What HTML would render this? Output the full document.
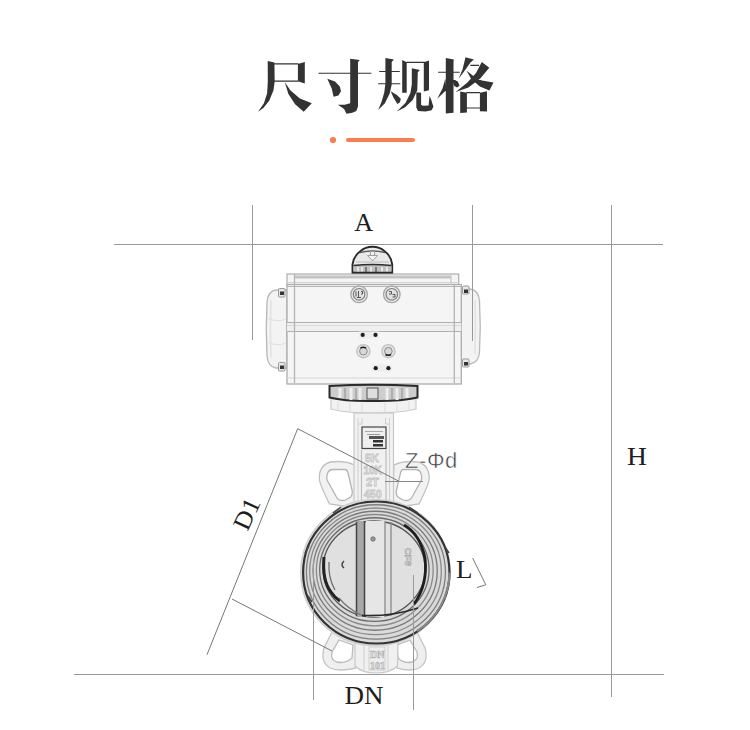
<!DOCTYPE html>
<html><head><meta charset="utf-8">
<style>
html,body{margin:0;padding:0;background:#fff;width:750px;height:730px;overflow:hidden}
svg{display:block}
.lbl{font-family:"Liberation Serif",serif;font-size:25px;fill:#1e1e1e}
.sans{font-family:"Liberation Sans",sans-serif;font-size:22px;fill:#3a3a3a;letter-spacing:0.6px;stroke:#fff;stroke-width:0.5px}
</style></head><body>
<svg width="750" height="730" viewBox="0 0 750 730">
<rect width="750" height="730" fill="#fff"/>
<!-- TITLE -->
<g id="title" fill="#333">
<path d="M267.7,61.0 L274.4,62.5 L274.7,81.6 L273.5,90.3 L269.2,100.8 L263.4,108.0 L258.1,111.8 L263.9,103.2 L267.1,93.6 L267.8,81.6Z M274.4,63.3 L298.4,63.3 L298.4,64.4 L274.4,64.4Z M297.9,63.9 L304.8,62.0 L304.8,83.6 L297.9,81.2Z M274.4,80.6 L298.4,80.6 L298.4,81.7 L274.4,81.7Z M284.7,82.1 L290.3,90.3 L299.9,98.4 L311.8,103.2 L303.7,111.8 L295.1,104.2 L288.4,94.1Z M318.5,72.7 L371.4,72.7 L371.4,73.8 L318.5,73.8Z M350.2,58.8 L359.7,60.1 L358.0,62.3 L358.0,106.6 L356.3,110.9 L352.3,112.8 L346.5,113.8 L344.1,109.0 L337.9,104.7 L344.6,104.8 L350.2,103.2Z M327.3,78.8 L335.0,81.6 L339.8,86.4 L341.0,91.2 L338.4,95.5 L333.6,96.7 L331.7,88.4Z M379.2,71.0 L399.8,71.0 L399.8,72.1 L379.2,72.1Z M378.2,83.3 L400.3,83.3 L400.3,84.3 L378.2,84.3Z M385.4,58.1 L393.9,59.6 L391.7,62.0 L391.7,84.5 L389.7,93.6 L384.9,103.2 L378.2,109.9 L381.6,101.8 L384.3,92.2 L385.4,83.6Z M390.7,91.2 L396.9,95.1 L400.8,98.7 L400.0,102.3 L397.4,103.9 L393.3,97.2Z M402.2,60.1 L406.7,62.3 L406.7,92.7 L402.2,92.7Z M406.5,61.8 L427.6,61.8 L427.6,62.9 L406.5,62.9Z M423.8,62.3 L429.0,60.4 L429.0,90.3 L423.8,91.4Z M411.8,68.2 L419.9,70.1 L417.8,72.2 L417.3,90.3 L412.7,99.9 L405.1,107.3 L396.9,111.4 L405.6,102.7 L410.4,93.1 L411.8,84.5Z M416.3,92.2 L421.1,92.7 L421.1,104.7 L422.8,105.8 L428.6,105.6 L429.5,95.8 L431.3,99.9 L433.4,106.8 L431.6,110.2 L425.7,111.6 L418.0,111.0 L416.3,107.5Z M445.8,58.1 L453.8,59.6 L453.5,62.5 L453.5,112.8 L445.8,113.5Z M438.1,71.8 L459.7,71.8 L459.7,72.8 L438.1,72.8Z M445.3,78.8 L446.1,90.3 L437.2,98.7 L442.5,88.4Z M453.0,78.8 L458.0,81.8 L459.5,85.7 L457.0,87.6 L454.0,85.7Z M465.5,57.2 L473.9,59.6 L470.5,62.5 L463.7,72.1 L458.6,78.8 L462.6,69.2Z M470.3,64.8 L479.1,64.8 L479.1,65.9 L470.3,65.9Z M481.8,62.0 L489.3,67.7 L480.0,78.8 L468.4,87.6 L455.7,91.9 L467.4,82.6 L476.0,73.0Z M466.4,70.6 L473.3,75.9 L481.8,80.5 L493.5,82.6 L489.4,90.5 L479.9,86.6 L471.2,79.0Z M460.2,91.4 L466.9,92.7 L466.9,112.5 L460.2,113.1Z M479.9,92.7 L487.0,91.2 L487.0,111.6 L479.9,111.2Z M466.4,92.1 L480.0,92.1 L480.0,93.2 L466.4,93.2Z M466.4,107.5 L480.0,107.5 L480.0,108.5 L466.4,108.5Z"/>
</g>
<!-- accent -->
<circle cx="333" cy="140" r="3.1" fill="#fb7d4e"/>
<line x1="348" y1="140" x2="413" y2="140" stroke="#fb7d4e" stroke-width="4" stroke-linecap="round"/>

<!-- VALVE -->
<!--VALVE_START-->
<g id="valve">
<!-- left end cap -->
<path d="M287,290 L276,290 Q268,291 267,302 Q265.5,329 267,356 Q268,367 276,368 L287,368 Z" fill="#f3f3f3" stroke="#b8b8b8" stroke-width="1.3"/>
<path d="M271,300 Q270,329 271,358" stroke="#e2e2e2" fill="none" stroke-width="1.5"/>
<path d="M268,318 Q277,323 286,319 M268,342 Q277,347 286,343" stroke="#e0e0e0" fill="none"/>
<!-- right end cap -->
<path d="M461,289 L470,289 Q478.5,290 479.5,301 Q481,327 479.5,352 Q478.5,363 470,364 L461,364 Z" fill="#f3f3f3" stroke="#b8b8b8" stroke-width="1.3"/>
<path d="M475,300 Q476,327 475,354" stroke="#e2e2e2" fill="none" stroke-width="1.5"/>
<!-- cap bolts -->
<g fill="#e8e8e8" stroke="#9a9a9a" stroke-width="1">
<rect x="278.5" y="288.5" width="6.5" height="8.5" rx="1"/>
<rect x="278.5" y="362.5" width="6.5" height="8.5" rx="1"/>
<rect x="462.5" y="286" width="6.5" height="8" rx="1"/>
<rect x="462.5" y="359" width="6.5" height="8" rx="1"/>
</g>
<g fill="#333">
<rect x="280" y="291.5" width="4" height="3.5"/>
<rect x="280" y="365.5" width="4" height="3.5"/>
<rect x="464" y="289.5" width="4" height="3.5"/>
<rect x="464" y="362" width="4" height="3.5"/>
</g>
<!-- body -->
<rect x="287" y="274" width="171.7" height="11" fill="#f5f5f5" stroke="#adadad" stroke-width="1.2"/>
<rect x="287" y="284.5" width="174.3" height="99.5" fill="#f5f5f5" stroke="#adadad" stroke-width="1.3"/>
<rect x="295" y="275.5" width="156" height="3" fill="#c4c4c4"/>
<line x1="287" y1="282.5" x2="458.7" y2="282.5" stroke="#d4d4d4" stroke-width="1"/>
<line x1="287" y1="286.5" x2="461.3" y2="286.5" stroke="#b4b4b4" stroke-width="1.2"/>
<rect x="287" y="322.5" width="174.3" height="9" fill="#efefef"/>
<line x1="287" y1="322.5" x2="461.3" y2="322.5" stroke="#b0b0b0" stroke-width="1.2"/>
<line x1="287" y1="325.5" x2="461.3" y2="325.5" stroke="#dadada" stroke-width="1"/>
<line x1="287" y1="331.5" x2="461.3" y2="331.5" stroke="#b0b0b0" stroke-width="1.2"/>
<line x1="287" y1="378" x2="461.3" y2="378" stroke="#d6d6d6" stroke-width="1"/>
<line x1="294.5" y1="274" x2="294.5" y2="383" stroke="#b4b4b4" stroke-width="1.3"/>
<line x1="451" y1="274" x2="451" y2="285" stroke="#c8c8c8" stroke-width="1.2"/>
<line x1="454.3" y1="285" x2="454.3" y2="383" stroke="#b4b4b4" stroke-width="1.3"/>
<!-- knob -->
<path d="M352.5,272.5 L352.5,264.5 C353.5,258 356.5,254 360,251.5 C364,248 368,246.8 372.4,246.8 C376.8,246.8 381,248 385,251.5 C388.5,254 391.2,258 392.2,264.5 L392.2,272.5 Z" fill="#e9e9e9" stroke="#2a2a2a" stroke-width="1.9"/>
<path d="M360,252.5 Q372.5,249.5 385,252.5" stroke="#555" stroke-width="1.3" fill="none"/>
<path d="M356,262 L389,262" stroke="#bbb" stroke-width="1" fill="none"/>
<rect x="353.5" y="265" width="38" height="7" fill="#c0c0c0"/>
<path d="M353.5,265.5 Q372,263.5 391.5,265.5" stroke="#2e2e2e" stroke-width="1.5" fill="none"/>
<path d="M358,267 v5 M362,267 v5 M371,267 v5 M382,267 v5 M387,267 v5" stroke="#eee" stroke-width="1.6"/>
<path d="M366,267 v5 M376,267 v5" stroke="#666" stroke-width="1.5"/>
<path d="M352.5,272.5 L392.2,272.5" stroke="#2a2a2a" stroke-width="1.6"/>
<path d="M367.5,255.5 L377.5,255.5 L372.5,261 Z M370.5,251.5 h4 v4 h-4 Z" fill="#f2f2f2" stroke="#9a9a9a" stroke-width="0.9"/>
<!-- round bolts -->
<g>
<circle cx="359.1" cy="294.3" r="8.3" fill="#ececec" stroke="#a8a8a8" stroke-width="1.4"/>
<circle cx="359.1" cy="294.3" r="5.8" fill="#e2e2e2" stroke="#808080" stroke-width="1.2"/>
<path d="M356,291.5 v5 M358.5,291 v6 M361,291.5 h1.5 v2.5 h-1.5 M357,297.5 h4" stroke="#555" stroke-width="1" fill="none"/>
<circle cx="391.8" cy="294.3" r="8.3" fill="#ececec" stroke="#a8a8a8" stroke-width="1.4"/>
<circle cx="391.8" cy="294.3" r="5.8" fill="#e2e2e2" stroke="#808080" stroke-width="1.2"/>
<path d="M389,291.5 h2.5 v2.5 h-2.5 M392.5,294.5 h2.5 v2.5 h-2.5" stroke="#555" stroke-width="1" fill="none"/>
</g>
<!-- holes -->
<g fill="#ededed" stroke="none">
<rect x="359" y="331.5" width="20" height="7"/>
<rect x="372" y="364.5" width="20" height="7"/>
</g>
<circle cx="362.7" cy="334.9" r="2.1" fill="#1e1e1e"/>
<circle cx="375.5" cy="334.9" r="2.1" fill="#1e1e1e"/>
<circle cx="375.7" cy="368.2" r="2.1" fill="#1e1e1e"/>
<circle cx="388.4" cy="368.2" r="2.1" fill="#1e1e1e"/>
<circle cx="363.4" cy="351.2" r="6.6" fill="#e4e4e4" stroke="#c2c2c2" stroke-width="1.4"/>
<circle cx="363.4" cy="351.2" r="3.8" fill="#d8d8d8" stroke="#888" stroke-width="1"/>
<path d="M360.5,348 Q363,346.5 366,348" stroke="#222" stroke-width="1.6" fill="none"/>
<circle cx="388.4" cy="351.2" r="6.6" fill="#e4e4e4" stroke="#c2c2c2" stroke-width="1.4"/>
<circle cx="388.4" cy="351.2" r="3.8" fill="#d8d8d8" stroke="#888" stroke-width="1"/>
<path d="M385.5,354.5 Q388,356 391,354.5" stroke="#222" stroke-width="1.6" fill="none"/>
<!-- flange -->
<path d="M331,399 L331,409 Q345,413 373,413 Q401,413 416,409 L416,399 Z" fill="#f2f2f2" stroke="#cbcbcb" stroke-width="1.2"/>
<path d="M338,402 v9 M350,403 v9 M362,403 v10 M385,403 v10 M397,403 v9 M409,402 v9" stroke="#dcdcdc" stroke-width="1"/>
<path d="M329.5,386 Q373,383.5 417.5,386 L417.5,397.5 Q400,401.5 373,401 Q346,401.5 329.5,397.5 Z" fill="#cdcdcd" stroke="#2a2a2a" stroke-width="2"/>
<path d="M340,388 v10 M351,388 v12 M360,388 v12 M387,388 v12 M397,388 v12 M407,388 v10" stroke="#ededed" stroke-width="3"/>
<path d="M345,388 v11 M356,388 v12 M392,388 v12 M402,388 v11" stroke="#999" stroke-width="1.2"/>
<rect x="367" y="388" width="11" height="11" fill="#dedede" stroke="#555" stroke-width="1"/>
<!-- upper ears -->
<path d="M354.5,465 C348.5,462 338.5,461 330.5,462 C322.5,464 318.5,471 319.5,480 C320.5,486 324.5,494 329.5,504 L356.5,508 Z" fill="#f2f2f2" stroke="#c0c0c0" stroke-width="1.3"/>
<path d="M345.5,469.5 L332.5,469.5 C328.5,469.5 326,474 327,480 L337,498 C338.5,500.5 342.5,501 345.5,500 L350.5,497 C352.5,495 352.5,492 352,490 L348,473 C347.5,471 346.5,469.5 345.5,469.5 Z" fill="#fff" stroke="#b4b4b4" stroke-width="1.3"/>
<path d="M394,465 C400,462 410,461 418,462 C426,464 430,471 429,480 C428,486 424,494 419,504 L392,508 Z" fill="#f2f2f2" stroke="#c0c0c0" stroke-width="1.3"/>
<path d="M403,469.5 L416,469.5 C420,469.5 422.5,474 421.5,480 L411.5,498 C410,500.5 406,501 403,500 L398,497 C396,495 396,492 396.5,490 L400.5,473 C401,471 402,469.5 403,469.5 Z" fill="#fff" stroke="#b4b4b4" stroke-width="1.3"/>
<!-- stem -->
<rect x="354" y="413" width="39.5" height="95" fill="#f1f1f1" stroke="#c8c8c8" stroke-width="1.2"/>
<path d="M358,418 L358,505 M389.5,418 L389.5,505" stroke="#d0d0d0" stroke-width="1"/>
<path d="M361.5,450 L361.5,505 M386,450 L386,505" stroke="#bdbdbd" stroke-width="1.2"/>
<path d="M362,418 L362,424 L358,424 M385.5,418 L385.5,424 L389.5,424" stroke="#ccc" fill="none" stroke-width="1"/>
<rect x="362" y="427" width="24" height="21.5" fill="#efefef" stroke="#444" stroke-width="1.2"/>
<path d="M365,431.5 h18" stroke="#aaa" stroke-width="1"/>
<path d="M367,434.5 h13" stroke="#999" stroke-width="1"/>
<rect x="369" y="436" width="15" height="3" fill="#555"/>
<rect x="373" y="440" width="10" height="2.5" fill="#333"/>
<rect x="373" y="444" width="10" height="2.5" fill="#333"/>
<g font-family="Liberation Sans" font-weight="bold" font-size="11" fill="#f4f4f4" stroke="#c2c2c2" stroke-width="0.8">
<text x="365" y="462">5K</text>
<text x="363.5" y="474" font-size="10">10K</text>
<text x="366" y="486">2T</text>
<text x="364" y="498" font-size="10.5">450</text>
</g>
<!-- lower ears -->
<path d="M333,630 L324,648 Q320,662 330,668 Q338,672 356,668 L356,640 Z" fill="#efefef" stroke="#c4c4c4" stroke-width="1.3"/>
<path d="M339,640 L332,652 Q330,660 337,662 Q345,664 352,658 L353,645 Z" fill="#fff" stroke="#bcbcbc" stroke-width="1.3"/>
<path d="M416,630 L425,648 Q429,662 419,668 Q411,672 397,668 L397,640 Z" fill="#efefef" stroke="#c4c4c4" stroke-width="1.3"/>
<path d="M410,640 L417,652 Q419,660 412,662 Q404,664 398,658 L397,645 Z" fill="#fff" stroke="#bcbcbc" stroke-width="1.3"/>
<!-- lower neck -->
<path d="M355,636 L398,636 L397.5,666 Q390,673 376,673 Q362,673 355,666 Z" fill="#f0f0f0" stroke="#c8c8c8" stroke-width="1.2"/>
<path d="M364,645 L364,670 M388,645 L388,670" stroke="#cfcfcf" stroke-width="1"/>
<rect x="369" y="647" width="16" height="23" fill="#eee" stroke="#c8c8c8" stroke-width="0.8"/>
<g font-family="Liberation Serif" font-weight="bold" fill="#f4f4f4" stroke="#b0b0b0" stroke-width="0.7">
<text x="370" y="658" font-size="10">DN</text>
<text x="370" y="669" font-size="10">101</text>
</g>
<!-- body ring -->
<ellipse cx="375.3" cy="572.5" rx="74.5" ry="73" fill="#ececec" stroke="#cfcfcf" stroke-width="1.5"/>
<ellipse cx="376.3" cy="572.5" rx="73.2" ry="71" fill="#dadada" stroke="#333" stroke-width="2.2"/>
<path d="M449.5,572.5 A73.2,71 0 0 1 417,631" stroke="#888" stroke-width="2.2" fill="none"/>
<path d="M333,513 L341,507 M409,507 L418,513 M305,553 L309,546 M312,602 L308,596 M445,547 L449,553" stroke="#444" stroke-width="1.5"/>
<ellipse cx="375.92" cy="571.92" rx="69.50" ry="67.17" fill="none" stroke="#7e7e7e" stroke-width="1.3"/>
<ellipse cx="375.53" cy="571.33" rx="65.80" ry="63.33" fill="none" stroke="#8a8a8a" stroke-width="1.3"/>
<ellipse cx="375.15" cy="570.75" rx="62.10" ry="59.50" fill="none" stroke="#7a7a7a" stroke-width="1.3"/>
<ellipse cx="374.77" cy="570.17" rx="58.40" ry="55.67" fill="none" stroke="#8a8a8a" stroke-width="1.3"/>
<ellipse cx="374.38" cy="569.58" rx="54.70" ry="51.83" fill="none" stroke="#6a6a6a" stroke-width="1.3"/>
<!-- disc -->
<ellipse cx="374" cy="569" rx="51" ry="48" fill="#e0e0e0" stroke="#555" stroke-width="1.3"/>
<path d="M324,557 Q322,580 331,592 Q335,598 340,601" stroke="#222" stroke-width="3" fill="none"/>
<path d="M329,562 Q328,578 335,590" stroke="#666" stroke-width="1.2" fill="none"/>
<path d="M404,525 Q420,534 425,558 Q428,585 414,604" stroke="#1e1e1e" stroke-width="2.8" fill="none"/>
<rect x="356" y="521" width="9" height="96" fill="#a8a8a8"/>
<path d="M356.5,522 L356.5,616 M364.5,521 L364.5,617" stroke="#444" stroke-width="1.5"/>
<rect x="366" y="521" width="19" height="96" fill="#e6e6e6"/>
<path d="M385,521 L385,617 M391,522 L391,616" stroke="#8a8a8a" stroke-width="1.3"/>
<path d="M362,615.5 Q390,617 418,608" stroke="#2a2a2a" stroke-width="1.8" fill="none"/>
<path d="M339,598 Q348,609 362,615.5" stroke="#777" stroke-width="1.3" fill="none"/>
<circle cx="373" cy="539" r="2.2" fill="#999" stroke="#666" stroke-width="0.8"/>
<path d="M344,561 Q340,565 344,568" stroke="#444" stroke-width="1.5" fill="none"/>
<g transform="rotate(90 405 548)"><text x="405" y="548" font-family="Liberation Sans" font-weight="bold" font-size="9.5" fill="#eee" stroke="#a0a0a0" stroke-width="0.6">CF8</text></g>
</g>
<!--VALVE_END-->
<!-- DIMENSIONS -->
<g stroke="#999" stroke-width="1" fill="none">
<line x1="114" y1="244.5" x2="663" y2="244.5"/>
<line x1="252.5" y1="205" x2="252.5" y2="340"/>
<line x1="472.5" y1="205" x2="472.5" y2="341"/>
<line x1="611.5" y1="205" x2="611.5" y2="697"/>
<line x1="74" y1="674.5" x2="664" y2="674.5"/>
<line x1="313.5" y1="560" x2="313.5" y2="700"/>
<line x1="413.5" y1="575" x2="413.5" y2="710"/>
</g>
<g stroke="#777" stroke-width="1" fill="none">
<line x1="297.7" y1="428.7" x2="207" y2="654.7"/>
<line x1="297.7" y1="428.7" x2="399" y2="481.3"/>
<line x1="232" y1="599" x2="332" y2="651"/>
<line x1="385" y1="481.5" x2="423" y2="481.5" stroke="#888"/>
<polyline points="472.7,558.1 485.8,584.8 477,587.5"/>
</g>
<text class="lbl" transform="translate(354.3,230.7) scale(1.05,1)">A</text>
<text class="lbl" transform="translate(627,465) scale(1.1,1)">H</text>
<text class="lbl" transform="translate(456,578) scale(1.08,1)">L</text>
<text class="lbl" transform="translate(344.5,704) scale(1.08,1)">DN</text>
<text class="lbl" transform="translate(247.5,532) rotate(-65) scale(1.05,1)">D1</text>
<text class="sans" x="405" y="467.5">Z-Φd</text>
</svg>
</body></html>
